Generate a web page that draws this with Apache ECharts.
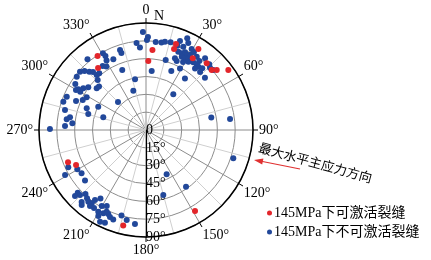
<!DOCTYPE html>
<html>
<head>
<meta charset="utf-8">
<script src="https://cdn.jsdelivr.net/npm/echarts@6/dist/echarts.min.js"></script>
<style>
  html, body { margin: 0; padding: 0; background: #fff; }
  #chart { width: 431px; height: 260px; }
</style>
</head>
<body>
<div id="chart"></div>
<script>
// [dip (radius), strike/azimuth (angle, clockwise from N)]
const activeFractures = [
  [67.5, 4.6], [58.1, 1.9], [74.4, 326.8], [65.9, 322.3], [72.1, 19.1], [76.6, 19.2],
  [81.1, 32.9], [72.0, 33.1], [75.9, 42.3], [74.8, 47.6], [78.0, 49.7], [85.7, 53.9],
  [71.0, 247.5], [65.8, 243.4], [82.6, 193.4], [79.6, 148.8]
]
const inactiveFractures = [
  // north
  [82.5, 358.2], [78.2, 1.2], [75.7, 0.6], [73.6, 353.8], [69.6, 355.8], [74.5, 6.3],
  [74.7, 10.0], [49.9, 5.5], [61.2, 15.7], [54.0, 23.2], [43.6, 347.8], [34.7, 342.1],
  [37.8, 37.4], [54.3, 37.1], [54.3, 338.4], [70.7, 342.0], [68.0, 342.3], [65.5, 335.2],
  [74.0, 330.7], [71.0, 331.3], [67.2, 330.4], [77.2, 320.4],
  // north-east
  [76.0, 12.1], [76.6, 15.7], [75.6, 20.4], [80.1, 20.9], [84.6, 24.2], [81.4, 25.9],
  [76.8, 24.1], [78.2, 29.4], [71.2, 22.4], [71.2, 25.0], [73.1, 26.7], [71.6, 28.6],
  [73.3, 30.3], [68.6, 26.0], [68.6, 28.5], [69.4, 30.6], [70.3, 33.1], [67.6, 31.8],
  [65.0, 22.0], [63.5, 24.0], [75.0, 34.7], [73.3, 37.7], [78.1, 39.5], [69.5, 34.9],
  [69.8, 37.7], [69.1, 39.6], [59.2, 28.9], [70.2, 42.4], [76.7, 43.9], [75.1, 45.8],
  [66.3, 48.4], [75.8, 48.3], [66.1, 38.6], [66.7, 43.0], [65.1, 28.6], [77.0, 31.6],
  // north-west
  [74.1, 311.5], [71.7, 313.8], [68.4, 315.8], [66.1, 317.6], [62.1, 318.1], [61.8, 320.5],
  [65.0, 325.9], [63.0, 328.0], [58.5, 316.0], [73.5, 307.6], [70.9, 303.0], [67.8, 299.7],
  [64.0, 300.2], [63.3, 303.6], [60.4, 306.5], [54.3, 310.2], [57.0, 298.9], [58.9, 295.4],
  [53.8, 312.7], [73.5, 288.9], [63.7, 292.5], [70.2, 283.9], [53.1, 290.1], [50.4, 285.5],
  [44.7, 296.0], [37.5, 286.6], [33.3, 315.0], [64.8, 279.5], [67.3, 277.7], [68.2, 272.8],
  [62.2, 275.2], [80.8, 270.6], [66.4, 301.0], [72.3, 292.8],
  // south-west
  [72.5, 244.4], [77.9, 240.9], [66.6, 240.2], [65.3, 236.1], [66.6, 230.4], [78.0, 227.4],
  [81.5, 227.1], [77.9, 225.4], [74.1, 223.4], [75.9, 220.8], [81.2, 221.8], [77.4, 218.8],
  [76.7, 216.5], [72.8, 216.1], [69.2, 213.6], [79.4, 216.4], [78.8, 213.7], [74.0, 210.2],
  [72.0, 207.3], [79.6, 210.3], [78.7, 207.1], [82.7, 209.0], [77.4, 204.2], [86.3, 206.6],
  [85.3, 203.9], [79.2, 202.5], [80.2, 200.1], [74.8, 196.0], [77.4, 192.1], [79.6, 186.7],
  [76.3, 205.7], [83.1, 220.6],
  // east / south-east
  [55.9, 79.2], [71.3, 82.5], [77.2, 108.0], [41.1, 155.0], [56.6, 165.1], [58.4, 144.8]
]
const angleTicks = [0, 30, 60, 90, 120, 150, 180, 210, 240, 270, 300, 330]
const radiusTicks = [0, 15, 30, 45, 60, 75, 90]

const activeName = '145MPa下可激活裂缝'
const inactiveName = '145MPa下不可激活裂缝'
const serif = '"Liberation Serif", "Noto Sans CJK SC", serif'

const chart = echarts.init(document.getElementById('chart'))
chart.setOption({
  animation: false,
  textStyle: { fontFamily: serif },
  polar: [
    { center: [146, 130], radius: 107 },
    { center: [146, 130], radius: 107 }
  ],
  angleAxis: [
    {
      polarIndex: 0,
      type: 'value',
      min: 0,
      max: 360,
      interval: 30,
      startAngle: 90,
      clockwise: true,
      axisLine: { lineStyle: { color: '#000', width: 1.5 } },
      axisTick: { show: true, length: 5, lineStyle: { color: '#000' } },
      axisLabel: {
        color: '#000',
        fontSize: 14,
        fontFamily: serif,
        margin: 6,
        formatter: v => (angleTicks.includes(v) ? (v === 0 ? '0' : v + '°') : '')
      },
      splitLine: { show: true, lineStyle: { color: '#8c8c8c', width: 1 } },
      minorTick: { show: false, splitNumber: 2 },
      minorSplitLine: { show: true, lineStyle: { color: '#cfcfcf', width: 1 } }
    },
    {
      polarIndex: 1,
      type: 'value',
      min: 0,
      max: 360,
      startAngle: 270,
      show: false
    }
  ],
  radiusAxis: [
    {
      polarIndex: 0,
      type: 'value',
      min: 0,
      max: 90,
      interval: 15,
      axisLine: { show: false },
      axisTick: { show: false },
      axisLabel: { show: false },
      splitLine: { show: true, lineStyle: { color: '#8c8c8c', width: 1 } }
    },
    {
      polarIndex: 1,
      type: 'value',
      min: 0,
      max: 90,
      interval: 15,
      axisLine: { show: true, lineStyle: { color: '#000', width: 1.2 } },
      axisTick: { show: false },
      splitLine: { show: false },
      axisLabel: {
        color: '#000',
        fontSize: 14,
        fontFamily: serif,
        margin: 0,
        formatter: v => (radiusTicks.includes(v) ? (v === 0 ? '0' : v + '°') : '')
      }
    }
  ],
  legend: {
    orient: 'vertical',
    left: 262,
    top: 201,
    itemWidth: 5,
    itemHeight: 5,
    itemGap: 5,
    icon: 'circle',
    data: [activeName, inactiveName],
    textStyle: { color: '#000', fontSize: 14, fontFamily: serif, padding: [0, 0, 0, -3] }
  },
  series: [
    {
      name: inactiveName,
      type: 'scatter',
      coordinateSystem: 'polar',
      polarIndex: 0,
      symbolSize: 6,
      itemStyle: { color: '#22489a', opacity: 1 },
      data: inactiveFractures
    },
    {
      name: activeName,
      type: 'scatter',
      coordinateSystem: 'polar',
      polarIndex: 0,
      symbolSize: 6,
      itemStyle: { color: '#e3262b', opacity: 1 },
      data: activeFractures
    }
  ],
  graphic: [
    {
      type: 'text',
      x: 154,
      y: 16,
      style: { text: 'N', fontSize: 14, fontFamily: serif, fill: '#000', textAlign: 'left', textVerticalAlign: 'middle' }
    },
    {
      type: 'text',
      x: 315,
      y: 164,
      rotation: -0.27,
      style: { text: '最大水平主应力方向', fontSize: 13, fontFamily: serif, fill: '#000', textAlign: 'center', textVerticalAlign: 'middle' }
    },
    {
      type: 'line',
      shape: { x1: 300, y1: 169, x2: 260, y2: 161 },
      style: { stroke: '#e03030', lineWidth: 1.2 }
    },
    {
      type: 'polygon',
      shape: { points: [[254, 160], [263.4, 158.4], [262.2, 164.5]] },
      style: { fill: '#e03030' }
    }
  ]
})
</script>
</body>
</html>
